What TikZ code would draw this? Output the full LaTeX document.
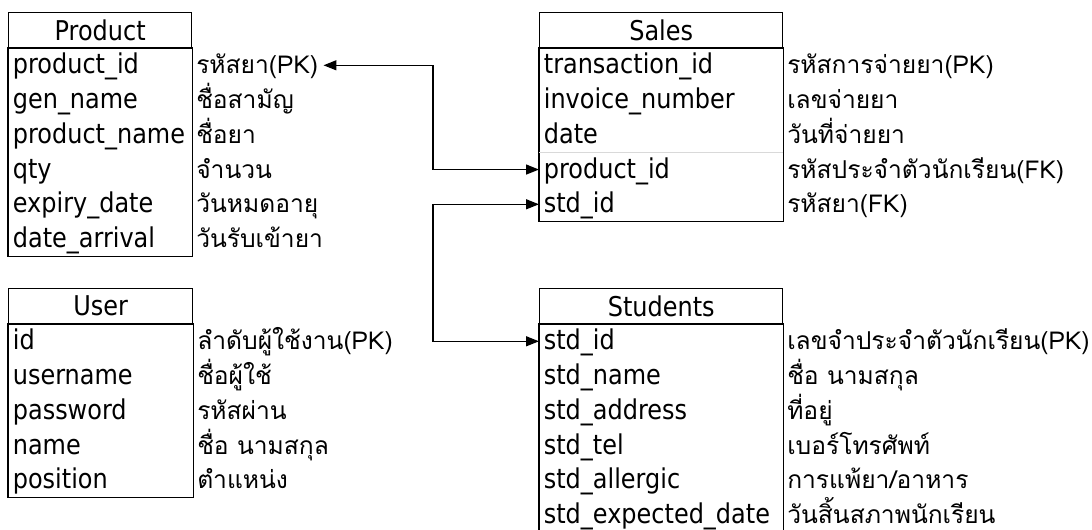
\documentclass[tikz,border=0pt]{standalone}
\usepackage{fontspec}
\setmainfont{DejaVu Sans}[FakeStretch=0.88]
\newfontfamily\thaifont[Script=Thai]{Loma}
\usetikzlibrary{positioning}
\usetikzlibrary{calc}
\usetikzlibrary{arrows.meta}
\tikzset{
	entity head/.style={
		draw, line width=0.8pt, anchor=north west, inner sep=0pt, minimum height=0.69cm,
		font=\fontsize{15.5pt}{18pt}\selectfont
	},
	every field/.style={
		anchor=west, inner xsep=0.09cm, inner ysep=0pt, text height=0.42cm, text depth=0.08cm,
		font=\fontsize{15.5pt}{18pt}\selectfont
	},
	every note/.style={
		anchor=west, inner sep=0pt, text height=0.42cm, text depth=0.08cm,
		font=\thaifont\fontsize{14pt}{18pt}\selectfont
	},
	key link/.style={
		{Triangle[length=0.26cm,width=0.2cm]}-{Triangle[length=0.26cm,width=0.2cm]}, line width=0.8pt
	}
}
\def\rowh{0.695}
% header, rows, frame round the rows
\newcommand\entitytable[4]{%
	\node[entity head, minimum width=#2cm] (#1) at #3 {#1};
	\foreach [count=\i] \f/\d in {#4}{%
		\node[every field] (#1-\i) at ($(#1.south west)+(0,{-(\i-0.5)*\rowh})$) {\f};
		\node[every note] (#1-\i-note) at ($(#1.south east)+(0.07,{-(\i-0.5)*\rowh})$) {\d};
		\xdef\nrows{\i}%
	}
	\draw[line width=0.8pt] (#1.south west) rectangle ($(#1.south east)+(0,{-\nrows*\rowh})$);
}

\begin{document}
\begin{tikzpicture}
	\useasboundingbox (0,0) rectangle (21.84,-10.58);

	\entitytable{Product}{3.66}{(0.16,-0.24)}{
		product\_id/รหัสยา(PK),
		gen\_name/ชื่อสามัญ,
		product\_name/ชื่อยา,
		qty/จำนวน,
		expiry\_date/วันหมดอายุ,
		date\_arrival/วันรับเข้ายา
	}
	\entitytable{Sales}{4.86}{(10.78,-0.24)}{
		transaction\_id/รหัสการจ่ายยา(PK),
		invoice\_number/เลขจ่ายยา,
		date/วันที่จ่ายยา,
		product\_id/รหัสประจำตัวนักเรียน(FK),
		std\_id/รหัสยา(FK)
	}
	\entitytable{User}{3.68}{(0.16,-5.76)}{
		id/ลำดับผู้ใช้งาน(PK),
		username/ชื่อผู้ใช้,
		password/รหัสผ่าน,
		name/ชื่อ นามสกุล,
		position/ตำแหน่ง
	}
	\entitytable{Students}{4.86}{(10.78,-5.76)}{
		std\_id/เลขจำประจำตัวนักเรียน(PK),
		std\_name/ชื่อ นามสกุล,
		std\_address/ที่อยู่,
		std\_tel/เบอร์โทรศัพท์,
		std\_allergic/{การแพ้ยา/อาหาร},
		std\_expected\_date/วันสิ้นสภาพนักเรียน
	}
	\draw[black!15] ($(Sales.south west)+(0,{-3*\rowh})$) -- ($(Sales.south east)+(0,{-3*\rowh})$);

	\coordinate (bus) at (8.66,0);
	\draw[key link] ([xshift=0.1cm]Product-1-note.east) -| (bus |- Sales-4) -- (Sales-4.west);
	\draw[key link] (Sales-5.west) -| (bus |- Students-1) -- (Students-1.west);
\end{tikzpicture}
\end{document}
